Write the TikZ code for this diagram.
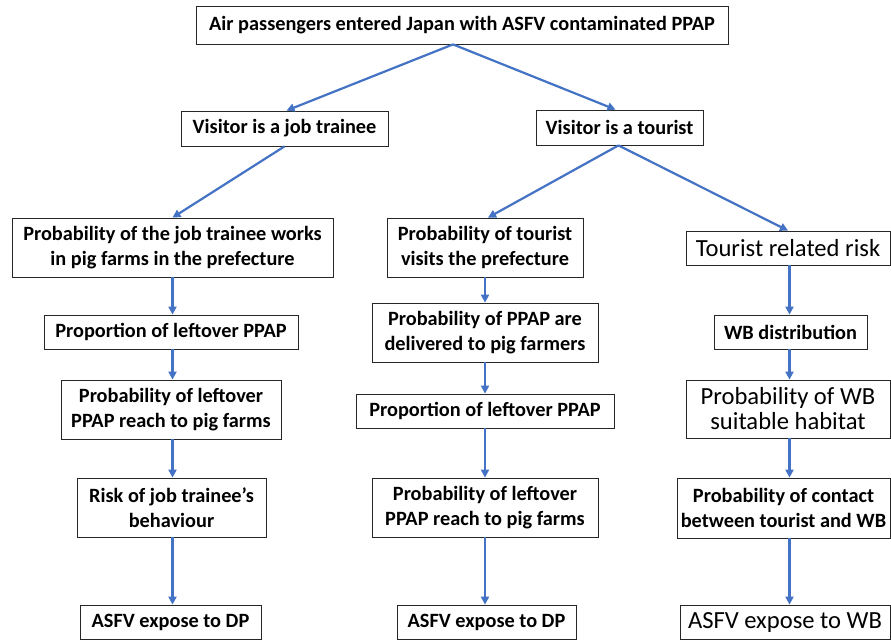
\documentclass[tikz,border=0pt]{standalone}
\usepackage{fontspec}
\setmainfont{Carlito}
\usetikzlibrary{arrows.meta}
\definecolor{arrblue}{HTML}{4472C4}
\tikzset{
  x=1pt, y=-1pt,
  box/.style={draw=black!85, line width=0.8pt, fill=white, align=center, inner sep=0pt,
    font=\fontsize{20.3}{25}\selectfont\bfseries},
  bigbox/.style={box, font=\fontsize{24.6}{25}\selectfont},
  arr/.style={draw=arrblue, line width=2.2pt, -{Triangle[length=8pt,width=8pt]}}
}
\newcommand{\bx}[7]{% name, x1, x2, y1, y2, style, text
  \node[#6, minimum width=#3pt-#2pt, minimum height=#5pt-#4pt] (#1) at ({(#2+#3)/2},{(#4+#5)/2}) {#7};}
\begin{document}
\begin{tikzpicture}
\useasboundingbox (0,0) rectangle (891,640);
\fill[white] (0,0) rectangle (891,640);
\bx{top}{196}{728}{6}{44}{box}{Air passengers entered Japan with ASFV contaminated PPAP}
\bx{jt}{181}{388}{111}{146}{box}{Visitor is a job trainee}
\bx{tour}{536}{703}{110}{145}{box}{Visitor is a tourist}
\bx{pj}{12}{333}{218}{277}{box}{Probability of the job trainee works\\in pig farms in the prefecture}
\bx{pt}{387}{583}{218}{277}{box}{Probability of tourist\\visits the prefecture}
\bx{trr}{686}{890}{231}{265}{bigbox}{Tourist related risk}
\bx{lpa}{44}{298}{315}{349}{box}{Proportion of leftover PPAP}
\bx{pd}{372}{598}{303}{362}{box}{Probability of PPAP are\\delivered to pig farmers}
\bx{wbd}{714}{867}{315}{349}{box}{WB distribution}
\bx{pla}{61}{281}{380}{439}{box}{Probability of leftover\\PPAP reach to pig farms}
\bx{lpb}{356}{614}{394}{428}{box}{Proportion of leftover PPAP}
\bx{wbh}{686}{890}{380}{438}{bigbox}{Probability of WB\\suitable habitat}
\bx{risk}{77}{266}{478}{537}{box}{Risk of job trainee’s\\behaviour}
\bx{plb}{372}{598}{478}{537}{box}{Probability of leftover\\PPAP reach to pig farms}
\bx{cont}{677}{890}{478}{538}{box}{Probability of contact\\between tourist and WB}
\bx{ea}{80}{261}{605}{639}{box}{ASFV expose to DP}
\bx{eb}{397}{576}{605}{639}{box}{ASFV expose to DP}
\bx{ec}{680}{890}{605}{639}{bigbox}{ASFV expose to WB}
% diagonal arrows
\draw[arr] ([xshift=-9pt]top.south) -- ([xshift=2pt]jt.north);
\draw[arr] ([xshift=-9pt]top.south) -- ([xshift=-4pt]tour.north);
\draw[arr] (jt.south) -- (pj.north);
\draw[arr] ([xshift=-1pt]tour.south) -- ([xshift=3pt]pt.north);
\draw[arr] ([xshift=-1pt]tour.south) -- (trr.north);
% vertical arrows
\draw[arr] (pj.south) -- (pj.south |- lpa.north);
\draw[arr] (pj.south |- lpa.south) -- (pj.south |- pla.north);
\draw[arr] (pj.south |- pla.south) -- (pj.south |- risk.north);
\draw[arr] (pj.south |- risk.south) -- (pj.south |- ea.north);
\draw[arr] (pt.south) -- (pt.south |- pd.north);
\draw[arr] (pt.south |- pd.south) -- (pt.south |- lpb.north);
\draw[arr] (pt.south |- lpb.south) -- (pt.south |- plb.north);
\draw[arr] (pt.south |- plb.south) -- (pt.south |- eb.north);
\draw[arr] ([xshift=1.5pt]trr.south) -- ([xshift=1.5pt]trr.south |- wbd.north);
\draw[arr] ([xshift=1.5pt]trr.south |- wbd.south) -- ([xshift=1.5pt]trr.south |- wbh.north);
\draw[arr] ([xshift=1.5pt]trr.south |- wbh.south) -- ([xshift=1.5pt]trr.south |- cont.north);
\draw[arr] ([xshift=1.5pt]trr.south |- cont.south) -- ([xshift=1.5pt]trr.south |- ec.north);
\end{tikzpicture}
\end{document}
